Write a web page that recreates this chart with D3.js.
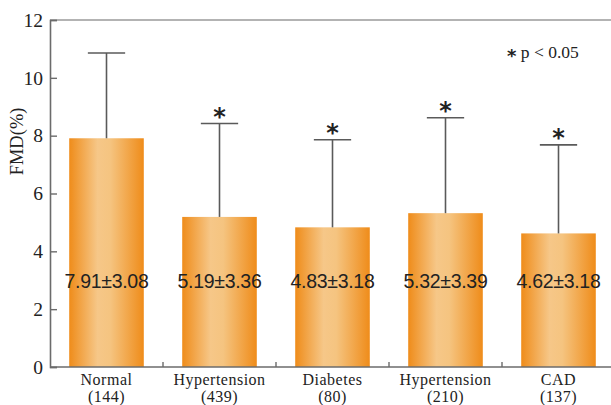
<!DOCTYPE html>
<html>
<head>
<meta charset="utf-8">
<script src="https://cdn.jsdelivr.net/npm/d3@7"></script>
<style>
  body { margin: 0; background: #fff; }
</style>
</head>
<body>
<svg id="chart" width="611" height="405"></svg>
<script>
var groups = ["Normal", "Hypertension", "Diabetes", "Hypertension", "CAD"];
var counts = ["(144)", "(439)", "(80)", "(210)", "(137)"];
var means = [7.91, 5.19, 4.83, 5.32, 4.62];
var sds = [3.08, 3.36, 3.18, 3.39, 3.18];
// upper ends of the error bars as drawn in the figure
var upper = [10.86, 8.42, 7.86, 8.62, 7.68];
var significant = [false, true, true, true, true];
var yTicks = [0, 2, 4, 6, 8, 10, 12];

var width = 611, height = 405;
var margin = {top: 20, right: -4, bottom: 38, left: 50};

var svg = d3.select("#chart");

var x = d3.scaleBand()
  .domain(d3.range(groups.length))
  .range([margin.left, width - margin.right])
  .paddingInner(0.34)
  .paddingOuter(0.17);

var y = d3.scaleLinear()
  .domain([0, 12])
  .range([height - margin.bottom, margin.top]);

var defs = svg.append("defs");
var grad = defs.append("linearGradient").attr("id", "barGrad")
  .attr("x1", "0%").attr("x2", "100%").attr("y1", "0%").attr("y2", "0%");
grad.append("stop").attr("offset", "0%").attr("stop-color", "#ef8c1a");
grad.append("stop").attr("offset", "38%").attr("stop-color", "#f6c788");
grad.append("stop").attr("offset", "55%").attr("stop-color", "#f5c480");
grad.append("stop").attr("offset", "100%").attr("stop-color", "#ef8c1a");

var idx = d3.range(groups.length);

// bars
svg.append("g").selectAll("rect")
  .data(idx)
  .enter()
  .append("rect")
  .attr("x", function(i) { return x(i); })
  .attr("y", function(i) { return y(means[i]); })
  .attr("width", x.bandwidth())
  .attr("height", function(i) { return y(0) - y(means[i]); })
  .attr("fill", "url(#barGrad)");

// error bars
var err = svg.append("g").attr("stroke", "#5a5a5a").attr("stroke-width", 1.6);
err.selectAll("line.v")
  .data(idx)
  .enter()
  .append("line")
  .attr("class", "v")
  .attr("x1", function(i) { return x(i) + x.bandwidth() / 2; })
  .attr("x2", function(i) { return x(i) + x.bandwidth() / 2; })
  .attr("y1", function(i) { return y(means[i]); })
  .attr("y2", function(i) { return y(upper[i]); });
err.selectAll("line.cap")
  .data(idx)
  .enter()
  .append("line")
  .attr("class", "cap")
  .attr("x1", function(i) { return x(i) + x.bandwidth() * 0.25; })
  .attr("x2", function(i) { return x(i) + x.bandwidth() * 0.75; })
  .attr("y1", function(i) { return y(upper[i]); })
  .attr("y2", function(i) { return y(upper[i]); });

// asterisks
svg.append("g").selectAll("text")
  .data(idx.filter(function(i) { return significant[i]; }))
  .enter()
  .append("text")
  .attr("x", function(i) { return x(i) + x.bandwidth() / 2; })
  .attr("y", function(i) { return y(upper[i]) + 1; })
  .attr("text-anchor", "middle")
  .style("font-family", "'DejaVu Sans', sans-serif")
  .style("font-weight", "bold")
  .style("font-size", "24px")
  .style("fill", "#222")
  .text("*");

// value labels
svg.append("g").selectAll("text")
  .data(idx)
  .enter()
  .append("text")
  .attr("x", function(i) { return x(i) + x.bandwidth() / 2; })
  .attr("y", y(2.74))
  .attr("text-anchor", "middle")
  .style("font-family", "'Liberation Sans', Arial, sans-serif")
  .style("font-size", "19.5px")
  .style("fill", "#222")
  .style("letter-spacing", "-0.3px")
  .text(function(i) { return means[i].toFixed(2) + "±" + sds[i].toFixed(2); });

// frame
var axisColor = "#6b6b6b";
svg.append("line")
  .attr("x1", margin.left).attr("x2", width)
  .attr("y1", y(12)).attr("y2", y(12))
  .attr("stroke", "#9a9a9a").attr("stroke-width", 1.4);

// y axis
var yAxis = svg.append("g")
  .attr("transform", "translate(" + margin.left + ",0)")
  .call(d3.axisRight(y).tickValues(yTicks).tickSize(7).tickFormat(d3.format("d")));
yAxis.select(".domain").attr("stroke", axisColor).attr("stroke-width", 1.6);
yAxis.selectAll(".tick line").attr("stroke", axisColor).attr("stroke-width", 1.4);
yAxis.selectAll(".tick text")
  .attr("x", -7)
  .attr("text-anchor", "end")
  .style("font-family", "'Liberation Serif', 'Times New Roman', serif")
  .style("font-size", "19.5px")
  .style("fill", "#222");

// x axis
var xAxis = svg.append("g")
  .attr("transform", "translate(0," + y(0) + ")");
xAxis.append("line")
  .attr("x1", margin.left).attr("x2", width)
  .attr("stroke", axisColor).attr("stroke-width", 1.6);
xAxis.selectAll("line.tick")
  .data(idx.slice(1))
  .enter()
  .append("line")
  .attr("class", "tick")
  .attr("x1", function(i) { return x(i) - x.step() * x.paddingInner() / 2; })
  .attr("x2", function(i) { return x(i) - x.step() * x.paddingInner() / 2; })
  .attr("y1", 0).attr("y2", -5)
  .attr("stroke", axisColor).attr("stroke-width", 1.4);

var xl = xAxis.selectAll("text.lab")
  .data(idx)
  .enter()
  .append("text")
  .attr("class", "lab")
  .attr("text-anchor", "middle")
  .attr("x", function(i) { return x(i) + x.bandwidth() / 2; })
  .style("font-family", "'Liberation Serif', 'Times New Roman', serif")
  .style("font-size", "16px")
  .style("letter-spacing", "0.5px")
  .style("fill", "#222");
xl.append("tspan").attr("x", function(i) { return x(i) + x.bandwidth() / 2; })
  .attr("y", 18).text(function(i) { return groups[i]; });
xl.append("tspan").attr("x", function(i) { return x(i) + x.bandwidth() / 2; })
  .attr("y", 34.5).text(function(i) { return counts[i]; });

// y label
svg.append("text")
  .attr("transform", "translate(23," + y(7.8) + ") rotate(-90)")
  .attr("text-anchor", "middle")
  .style("font-family", "'Liberation Serif', 'Times New Roman', serif")
  .style("font-size", "18.5px")
  .style("fill", "#222")
  .text("FMD(%)");

// significance note
var note = svg.append("text")
  .attr("x", 507)
  .attr("y", 58)
  .style("font-family", "'Liberation Serif', 'Times New Roman', serif")
  .style("font-size", "17.5px")
  .style("fill", "#222");
note.append("tspan").style("font-family", "'DejaVu Sans', sans-serif").style("font-weight", "bold").style("font-size", "18px").attr("dy", 4).text("*");
note.append("tspan").attr("dy", -4).text(" p < 0.05");
</script>
</body>
</html>
